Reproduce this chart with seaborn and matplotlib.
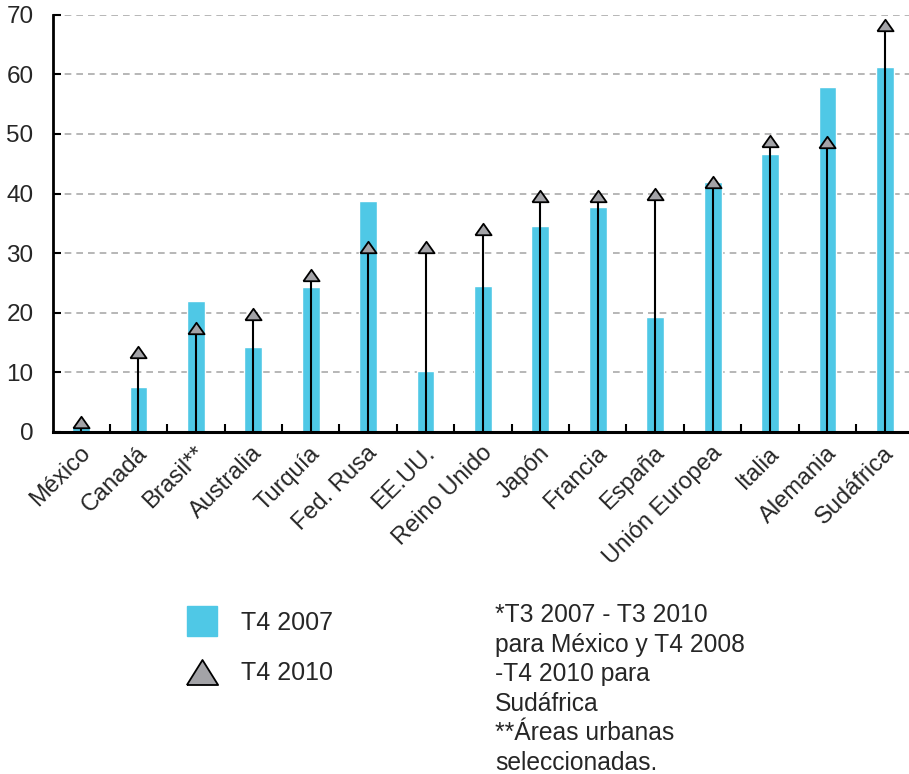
import numpy as np
import pandas as pd
import matplotlib
matplotlib.use("Agg")
import matplotlib.pyplot as plt
import seaborn as sns
from matplotlib.lines import Line2D
from matplotlib.transforms import ScaledTranslation

# Tasas por país: barras = T4 2007, triángulos = T4 2010
paises = ["México", "Canadá", "Brasil**", "Australia", "Turquía", "Fed. Rusa",
          "EE.UU.", "Reino Unido", "Japón", "Francia", "España",
          "Unión Europea", "Italia", "Alemania", "Sudáfrica"]
t4_2007 = [1.0, 7.6, 22.0, 14.3, 24.3, 38.8, 10.2, 24.5, 34.6, 37.8, 19.3,
           41.9, 46.6, 57.9, 61.2]
t4_2010 = [1.6, 13.4, 17.4, 19.8, 26.3, 31.0, 31.0, 34.0, 39.6, 39.6, 40.0,
           42.0, 48.8, 48.7, 68.2]
y_ticks = [0, 10, 20, 30, 40, 50, 60, 70]
serie_labels = ["T4 2007", "T4 2010"]
nota = ("*T3 2007 - T3 2010\npara México y T4 2008\n-T4 2010 para\n"
        "Sudáfrica\n**Áreas urbanas\nseleccionadas.")

AZUL = "#4FC8E6"
GRIS = "#A3A3A7"

sns.set_theme(style="white")
plt.rcParams["font.family"] = ["Liberation Sans", "DejaVu Sans"]

df = pd.DataFrame({"pais": paises, "t4_2007": t4_2007, "t4_2010": t4_2010})
pos = np.arange(len(paises))

W, H = 909, 774
fig = plt.figure(figsize=(W / 100, H / 100), dpi=100)
ax = fig.add_axes([53 / W, 1 - 432 / H, 1 - 53 / W, (432 - 14.7) / H])

sns.barplot(data=df, x="pais", y="t4_2007", color=AZUL, saturation=1,
            width=0.31, ax=ax, zorder=2)

# Líneas desde cero hasta el valor de 2010, con triángulo en el extremo
ax.vlines(pos, 0, df["t4_2010"], color="black", lw=1.5, zorder=3)
tri = [(-1, -0.71), (1, -0.71), (0, 0.71), (-1, -0.71)]
sns.scatterplot(x=pos, y=df["t4_2010"], marker=tri, s=135, color=GRIS,
                edgecolor="black", linewidth=1.3, zorder=4, legend=False, ax=ax)

ax.set_xlim(-0.488, 14.42)
ax.set_ylim(0, 70)
ax.set_yticks(y_ticks)
ax.set_yticklabels([str(v) for v in y_ticks], fontsize=17.5)
ax.set_xlabel("")
ax.set_ylabel("")

ax.set_xticks(pos)
ax.set_xticks(pos[:-1] + 0.5, minor=True)
ax.tick_params(axis="x", which="major", length=0, pad=13)
ax.tick_params(axis="x", which="minor", direction="in", length=6, width=1.5,
               color="black", bottom=True)
ax.tick_params(axis="y", direction="in", length=6, width=1.5, color="black",
               pad=14, left=True)
ax.set_xticklabels(paises, rotation=45, ha="right", va="center",
                   rotation_mode="anchor", fontsize=17)
shift = ScaledTranslation(6 / 100, 0, fig.dpi_scale_trans)
for lab in ax.get_xticklabels():
    lab.set_transform(lab.get_transform() + shift)

ax.yaxis.grid(True, linestyle=(0, (4, 3)), color="#AAAAAA", lw=1.2)
ax.xaxis.grid(False)
ax.set_axisbelow(True)
for s in ["top", "right"]:
    ax.spines[s].set_visible(False)
ax.spines["left"].set_linewidth(2.0)
ax.spines["bottom"].set_linewidth(2.2)
ax.spines["left"].set_color("black")
ax.spines["bottom"].set_color("black")

handles = [
    Line2D([], [], marker="s", markersize=22, color=AZUL, linestyle=""),
    Line2D([], [], marker=[(-1, -0.8), (1, -0.8), (0, 0.8), (-1, -0.8)],
           markersize=22.5, markerfacecolor=GRIS, markeredgecolor="black",
           markeredgewidth=1.3, linestyle=""),
]
fig.legend(handles, serie_labels, loc="upper left",
           bbox_to_anchor=(186 / W, 1 - 611 / H), frameon=False, fontsize=18,
           handlelength=1.3, handletextpad=0.9, labelspacing=1.05,
           borderpad=0, borderaxespad=0)

fig.text(495 / W, 1 - 603 / H, nota, ha="left", va="top", fontsize=17.7,
         linespacing=1.29)

fig.savefig("out.png", dpi=100)
